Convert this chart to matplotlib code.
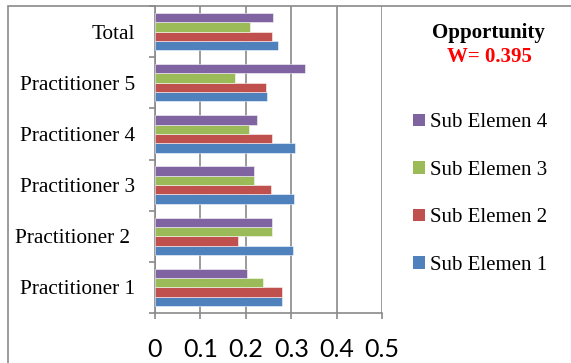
import numpy as np
import matplotlib
matplotlib.use("Agg")
from matplotlib import pyplot as plt
from matplotlib.patches import Rectangle, Patch

categories = ["Practitioner 1", "Practitioner 2 ", "Practitioner 3",
              "Practitioner 4", "Practitioner 5", "Total"]
sub1 = [0.279, 0.304, 0.307, 0.308, 0.246, 0.271]
sub2 = [0.279, 0.182, 0.255, 0.257, 0.245, 0.257]
sub3 = [0.237, 0.257, 0.218, 0.207, 0.177, 0.210]
sub4 = [0.202, 0.257, 0.218, 0.225, 0.331, 0.261]
series_names = ["Sub Elemen 1", "Sub Elemen 2", "Sub Elemen 3", "Sub Elemen 4"]
colors = ["#4F81BD", "#C0504D", "#9BBB59", "#8064A2"]
xticks = [0, 0.1, 0.2, 0.3, 0.4, 0.5]
xtick_labels = ["0", "0.1", "0.2", "0.3", "0.4", "0.5"]

W, H = 571, 363
fig = plt.figure(figsize=(W / 100, H / 100), dpi=100)
ax = fig.add_axes([155 / W, 1 - 313 / H, (382 - 155) / W, (313 - 6) / H])

# outer chart frame (left and top edges visible)
fig.patches.append(Rectangle((8 / W, -0.05), 1.2, 1 - 6 / H + 0.05,
                             transform=fig.transFigure, fill=False,
                             edgecolor="#8a8a8a", linewidth=1.2, zorder=0))

y = np.arange(len(categories))
w = 1 / 5.5
for k, (vals, c, name) in enumerate(zip([sub1, sub2, sub3, sub4], colors, series_names)):
    ax.barh(y + (k - 1.5) * w, vals, height=w, color=c, label=name,
            edgecolor=(1, 1, 1, 0.6), linewidth=0.6, zorder=3)

ax.set_xlim(0, 0.5)
ax.set_ylim(-0.5, len(categories) - 0.5)
ax.set_xticks(xticks)
ax.set_xticklabels(xtick_labels, fontfamily="Lato", fontsize=18)
ax.tick_params(axis="x", length=4, width=1.2, color="#8a8a8a", pad=14)
ax.grid(axis="x", color="#8a8a8a", linewidth=1.2, zorder=0)

ax.set_yticks(y)
ax.set_yticklabels(categories, fontfamily="Liberation Serif", fontsize=15.3)
ax.set_yticks(np.arange(-0.5, len(categories) - 0.4, 1), minor=True)
ax.tick_params(axis="y", which="major", length=0, pad=14)
ax.tick_params(axis="y", which="minor", length=4, width=1.2, color="#8a8a8a")

for s in ["top", "right"]:
    ax.spines[s].set_visible(False)
for s in ["left", "bottom"]:
    ax.spines[s].set_color("#8a8a8a")
    ax.spines[s].set_linewidth(1.2)

fig.text(488 / W, 1 - 33 / H, "Opportunity", ha="center", va="center",
         fontfamily="Liberation Serif", fontweight="bold", fontsize=15)
fig.text(489 / W, 1 - 57 / H, "W= 0.395", ha="center", va="center",
         fontfamily="Liberation Serif", fontweight="bold", fontsize=15, color="red")

handles = [Patch(facecolor=c) for c in colors]
fig.legend(handles[::-1], series_names[::-1], loc="upper left",
           bbox_to_anchor=(405 / W, 1 - 105 / H), frameon=False,
           prop={"family": "Liberation Serif", "size": 15},
           handlelength=0.55, handleheight=0.55, handletextpad=0.25,
           labelspacing=1.37, borderaxespad=0)

fig.savefig("out.png", dpi=100)
